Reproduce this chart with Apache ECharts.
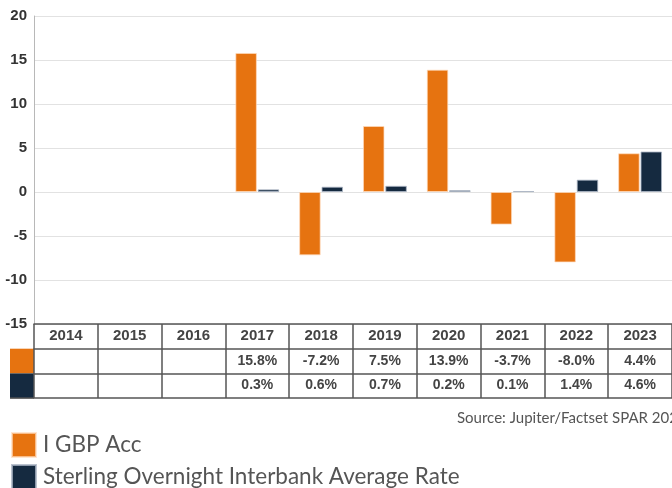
<!DOCTYPE html>
<html>
<head>
<meta charset="utf-8">
<script src="https://cdn.jsdelivr.net/npm/echarts@6/dist/echarts.min.js"></script>
<style>
html,body{margin:0;padding:0;background:#fff;}
#c{width:672px;height:488px;}
</style>
</head>
<body>
<div id="c"></div>
<script>
const years = ['2014','2015','2016','2017','2018','2019','2020','2021','2022','2023'];
const iGbpAcc = [null, null, null, 15.8, -7.2, 7.5, 13.9, -3.7, -8.0, 4.4];
const sonia = [null, null, null, 0.3, 0.6, 0.7, 0.2, 0.1, 1.4, 4.6];
const seriesNames = ['I GBP Acc', 'Sterling Overnight Interbank Average Rate'];
const yTicks = {min: -15, max: 20, interval: 5};
const sourceText = 'Source: Jupiter/Factset SPAR 2024';

const ORANGE = '#E67310';
const NAVY = '#152A40';
const BORDER = '#555555';

const fmt = v => (v === null || v === undefined) ? '' : v.toFixed(1) + '%';

const chart = echarts.init(document.getElementById('c'), null, {renderer: 'canvas'});

const GRID = {left: 34, top: 16, width: 645, height: 308};
const ROW = 24.7;

function tableAxis(offset, vals) {
  return {
    type: 'category', data: years, gridIndex: 0, position: 'bottom', offset: offset,
    axisLine: {show: true, onZero: false, lineStyle: {color: BORDER, width: 1.5}},
    axisTick: {show: true, length: ROW, lineStyle: {color: BORDER, width: 1.5}},
    axisLabel: {
      show: true, margin: 5, fontSize: 14, fontWeight: 'bold', color: '#444',
      fontFamily: 'Liberation Sans, Arial, sans-serif',
      formatter: (v, i) => fmt(vals[i])
    },
    splitLine: {show: false}
  };
}

const option = {
  animation: false,
  backgroundColor: '#fff',
  grid: GRID,
  legend: {
    orient: 'vertical', left: 11, top: 432, height: 60, padding: 0, itemWidth: 24, itemHeight: 24, itemGap: 6,
    icon: 'rect',
    textStyle: {fontSize: 22.5, lineHeight: 24, color: '#555', fontFamily: 'Lato, sans-serif', padding: [0,0,0,2]},
    data: seriesNames
  },
  xAxis: [
    {
      type: 'category', data: years, position: 'bottom',
      axisLine: {show: true, onZero: false, lineStyle: {color: BORDER, width: 1.5}},
      axisTick: {show: true, length: ROW, lineStyle: {color: BORDER, width: 1.5}},
      axisLabel: {margin: 4, fontSize: 15, fontWeight: 'bold', color: '#444', fontFamily: 'Liberation Sans, Arial, sans-serif'},
      splitLine: {show: false}
    },
    tableAxis(ROW, iGbpAcc),
    tableAxis(ROW * 2, sonia),
    {
      type: 'category', data: years, position: 'bottom', offset: ROW * 3,
      axisLine: {show: true, onZero: false, lineStyle: {color: BORDER, width: 1.5}},
      axisTick: {show: false}, axisLabel: {show: false}, splitLine: {show: false}
    }
  ],
  yAxis: {
    type: 'value', min: yTicks.min, max: yTicks.max, interval: yTicks.interval,
    axisLine: {show: true, lineStyle: {color: '#b8b8b8', width: 1}},
    axisTick: {show: false},
    axisLabel: {margin: 7, fontSize: 15, fontWeight: 'bold', color: '#333', fontFamily: 'Liberation Sans, Arial, sans-serif'},
    splitLine: {show: true, lineStyle: {color: '#e2e2e2', width: 1}}
  },
  series: [
    {
      name: seriesNames[0], type: 'bar', data: iGbpAcc, barWidth: 21.5, barGap: '4%',
      itemStyle: {color: ORANGE, borderColor: 'rgba(255,220,190,0.7)', borderWidth: 1}
    },
    {
      name: seriesNames[1], type: 'bar', data: sonia, barWidth: 21.5, barGap: '4%',
      itemStyle: {color: NAVY, borderColor: 'rgba(170,180,195,0.8)', borderWidth: 1}
    }
  ],
  graphic: [
    {type: 'rect', left: 10, top: GRID.top + GRID.height + ROW, shape: {width: 24, height: ROW}, style: {fill: ORANGE}},
    {type: 'rect', left: 10, top: GRID.top + GRID.height + ROW * 2, shape: {width: 24, height: ROW}, style: {fill: NAVY}},
    {type: 'line', shape: {x1: 10, y1: GRID.top + GRID.height + ROW * 3, x2: 34, y2: GRID.top + GRID.height + ROW * 3}, style: {stroke: BORDER, lineWidth: 1.5}},
    {type: 'text', left: 457, top: 411, style: {text: sourceText, fontSize: 15, fill: '#555', fontFamily: 'Lato, sans-serif'}}
  ]
};
chart.setOption(option);
</script>
</body>
</html>
